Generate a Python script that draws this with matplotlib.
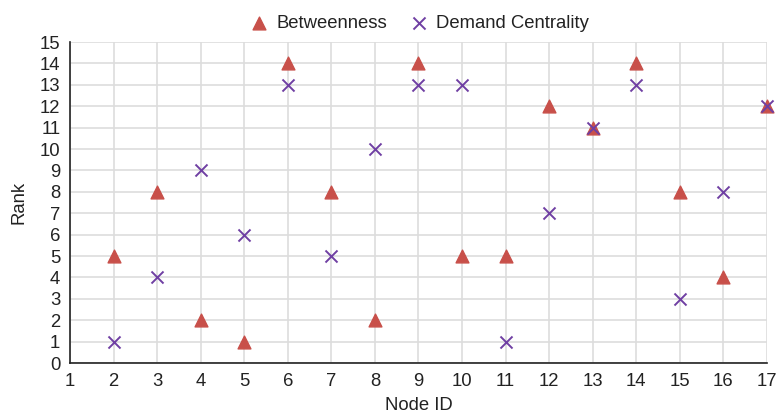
import matplotlib
matplotlib.use("Agg")
import matplotlib.pyplot as plt

plt.rcParams["font.family"] = ["Liberation Sans", "DejaVu Sans"]

# ── Data ──────────────────────────────────────────────────────────────────────
node_ids    = [2, 3, 4, 5, 6, 7, 8, 9, 10, 11, 12, 13, 14, 15, 16, 17]
betweenness = [5, 8, 2, 1, 14, 8, 2, 14, 5, 5, 12, 11, 14, 8, 4, 12]
demand      = [1, 4, 9, 6, 13, 5, 10, 13, 13, 1, 7, 11, 13, 3, 8, 12]

RED    = "#c8504a"
PURPLE = "#6f3fa3"
FS     = 13.3

fig = plt.figure(figsize=(7.81, 4.16), dpi=100)
ax = fig.add_axes([0.0896, 0.1274, 0.8924, 0.7716])

ax.scatter(node_ids, betweenness, marker="^", s=85, color=RED,
           label="Betweenness", zorder=3, clip_on=False)
ax.scatter(node_ids, demand, marker="x", s=75, color=PURPLE, linewidths=1.4,
           label="Demand Centrality", zorder=4, clip_on=False)

ax.set_xlim(1, 17)
ax.set_ylim(0, 15)
ax.set_xticks(range(1, 18))
ax.set_yticks(range(0, 16))
ax.tick_params(length=0, labelsize=FS, colors="#222222", pad=7)
ax.grid(True, color="#dddddd", linewidth=1.2, zorder=0)
ax.set_axisbelow(True)
for s in ("top", "right"):
    ax.spines[s].set_visible(False)
for s in ("left", "bottom"):
    ax.spines[s].set_color("#222222")
    ax.spines[s].set_linewidth(1.2)

ax.set_xlabel("Node ID", fontsize=FS, color="#222222", labelpad=5)
ax.set_ylabel("Rank", fontsize=FS, color="#222222", labelpad=9)

ax.legend(loc="lower center", bbox_to_anchor=(0.5, 1.0), ncol=2, frameon=False,
          fontsize=FS, handlelength=1.2, handletextpad=0.3, columnspacing=1.15,
          labelcolor="#222222", borderaxespad=0.15)

plt.savefig("out.png", dpi=100)
